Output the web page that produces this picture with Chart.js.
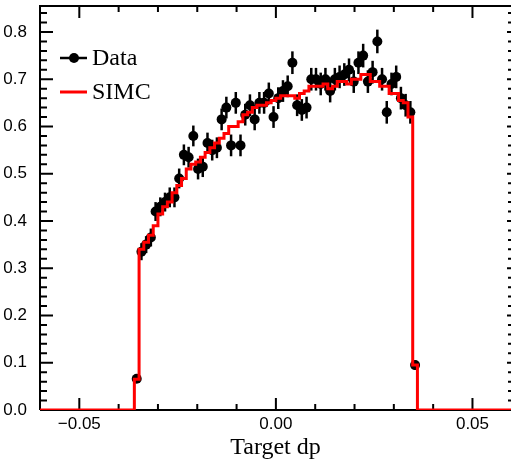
<!DOCTYPE html>
<html>
<head>
<meta charset="utf-8">
<script src="https://cdn.jsdelivr.net/npm/chart.js@4"></script>
<style>
  html, body { margin: 0; padding: 0; background: #fff; }
  #wrap { width: 511px; height: 463px; }
</style>
</head>
<body>
<div id="wrap"><canvas id="dpChart" width="511" height="463"></canvas></div>
<script>
// Target dp histogram: 60 bins of 0.0012 starting at -0.036
const binLow = -0.036;
const binWidth = 0.0012;

const dataValues = [
  0.066, 0.335, 0.350, 0.365, 0.420, 0.430, 0.440, 0.450, 0.450, 0.490,
  0.540, 0.535, 0.580, 0.510, 0.515, 0.565, 0.550, 0.555, 0.615, 0.640,
  0.560, 0.650, 0.560, 0.625, 0.645, 0.615, 0.650, 0.650, 0.670, 0.620,
  0.660, 0.675, 0.685, 0.735, 0.645, 0.635, 0.640, 0.700, 0.700, 0.690,
  0.700, 0.675, 0.700, 0.705, 0.710, 0.720, 0.695, 0.735, 0.750, 0.695,
  0.715, 0.780, 0.700, 0.630, 0.690, 0.705, 0.660, 0.645, 0.630, 0.095
];
const dataErrors = [
  0.006, 0.018, 0.018, 0.019, 0.020, 0.020, 0.020, 0.021, 0.021, 0.021,
  0.022, 0.022, 0.022, 0.022, 0.022, 0.022, 0.022, 0.022, 0.023, 0.023,
  0.023, 0.023, 0.023, 0.023, 0.023, 0.023, 0.023, 0.023, 0.023, 0.023,
  0.023, 0.023, 0.023, 0.024, 0.023, 0.023, 0.023, 0.024, 0.024, 0.024,
  0.024, 0.024, 0.024, 0.024, 0.024, 0.024, 0.024, 0.024, 0.025, 0.024,
  0.024, 0.025, 0.024, 0.024, 0.024, 0.024, 0.024, 0.024, 0.024, 0.010
];
const simcValues = [
  0.065, 0.340, 0.355, 0.370, 0.390, 0.415, 0.430, 0.440, 0.460, 0.475,
  0.490, 0.510, 0.520, 0.525, 0.535, 0.545, 0.555, 0.565, 0.575, 0.585,
  0.600, 0.600, 0.610, 0.625, 0.630, 0.640, 0.645, 0.645, 0.650, 0.655,
  0.660, 0.665, 0.665, 0.665, 0.660, 0.670, 0.675, 0.685, 0.685, 0.685,
  0.690, 0.680, 0.685, 0.695, 0.695, 0.690, 0.700, 0.700, 0.710, 0.710,
  0.695, 0.695, 0.685, 0.685, 0.670, 0.670, 0.655, 0.650, 0.620, 0.095
];

const xTicks = [-0.05, 0.00, 0.05];
const yTicks = [0.0, 0.1, 0.2, 0.3, 0.4, 0.5, 0.6, 0.7, 0.8];
const legendLabels = ['Data', 'SIMC'];

// build the library's point lists
const dataPoints = dataValues.map((v, i) => ({ x: binLow + (i + 0.5) * binWidth, y: v }));
const simcPoints = [{ x: -0.06, y: 0 }];
simcValues.forEach((v, i) => simcPoints.push({ x: binLow + i * binWidth, y: v }));
simcPoints.push({ x: binLow + simcValues.length * binWidth, y: 0 });
simcPoints.push({ x: 0.06, y: 0 });

function range(a, b, step) {
  const out = [];
  for (let v = a; v <= b + step / 2; v += step) out.push(+v.toFixed(4));
  return out;
}

function noPad(s) {
  s.paddingTop = 0; s.paddingBottom = 0;
  s.paddingLeft = 0; s.paddingRight = 0;
}

// ROOT-like frame, inward ticks, error bars and legend
const rootStyle = {
  id: 'rootStyle',
  beforeDatasetsDraw(chart) {
    const { ctx, chartArea: a, scales: { x, y } } = chart;
    ctx.save();
    ctx.strokeStyle = '#000';

    // error bars
    ctx.lineWidth = 2.5;
    dataPoints.forEach((p, i) => {
      const px = x.getPixelForValue(p.x);
      ctx.beginPath();
      ctx.moveTo(px, y.getPixelForValue(p.y - dataErrors[i]));
      ctx.lineTo(px, y.getPixelForValue(p.y + dataErrors[i]));
      ctx.stroke();
    });

    // frame
    ctx.lineWidth = 2;
    ctx.beginPath();
    ctx.moveTo(a.left, a.bottom);
    ctx.lineTo(a.left, a.top);
    ctx.lineTo(a.right + 2, a.top);
    ctx.moveTo(a.left, a.bottom);
    ctx.lineTo(a.right + 2, a.bottom);
    ctx.stroke();

    // x ticks (bottom and top)
    range(-0.06, 0.06, 0.01).forEach(v => {
      const major = xTicks.some(t => Math.abs(t - v) < 1e-6);
      const len = major ? 12 : 6;
      const px = x.getPixelForValue(v);
      if (px < a.left + 1 || px > a.right - 1) return;
      ctx.beginPath();
      ctx.moveTo(px, a.bottom); ctx.lineTo(px, a.bottom - len);
      ctx.moveTo(px, a.top); ctx.lineTo(px, a.top + len);
      ctx.stroke();
    });

    // y ticks (left and right)
    range(0, 0.84, 0.02).forEach(v => {
      const major = yTicks.some(t => Math.abs(t - v) < 1e-6);
      const len = major ? 13 : 7;
      const py = y.getPixelForValue(v);
      if (py > a.bottom - 1) return;
      ctx.beginPath();
      ctx.moveTo(a.left, py); ctx.lineTo(a.left + len, py);
      ctx.moveTo(a.right, py); ctx.lineTo(a.right - (major ? 4 : 3), py);
      ctx.stroke();
    });
    ctx.restore();
  },
  afterDraw(chart) {
    const { ctx } = chart;
    ctx.save();
    ctx.font = '24px "Liberation Serif"';
    ctx.fillStyle = '#000';
    ctx.textBaseline = 'middle';

    // Data entry
    ctx.strokeStyle = '#000';
    ctx.lineWidth = 2.5;
    ctx.beginPath(); ctx.moveTo(60, 58); ctx.lineTo(87, 58); ctx.stroke();
    ctx.beginPath(); ctx.arc(74, 58, 5, 0, Math.PI * 2); ctx.fill();
    ctx.fillText(legendLabels[0], 92, 59);

    // SIMC entry
    ctx.strokeStyle = '#ff0000';
    ctx.lineWidth = 3;
    ctx.beginPath(); ctx.moveTo(60, 92); ctx.lineTo(87, 92); ctx.stroke();
    ctx.fillText(legendLabels[1], 92, 93);
    ctx.restore();
  }
};

const ctx = document.getElementById('dpChart').getContext('2d');
new Chart(ctx, {
  type: 'line',
  data: {
    datasets: [
      {
        label: 'SIMC',
        data: simcPoints,
        stepped: 'before',
        borderColor: '#ff0000',
        borderWidth: 3,
        pointRadius: 0,
        fill: false
      },
      {
        label: 'Data',
        data: dataPoints,
        showLine: false,
        pointRadius: 5,
        pointBackgroundColor: '#000',
        pointBorderColor: '#000',
        pointBorderWidth: 0
      }
    ]
  },
  options: {
    responsive: false,
    animation: false,
    devicePixelRatio: 1,
    layout: { autoPadding: false, padding: { top: 6, right: 0, left: 0, bottom: 0 } },
    plugins: { legend: { display: false }, tooltip: { enabled: false } },
    scales: {
      x: {
        type: 'linear',
        min: -0.06,
        max: 0.0598,
        grid: { display: false },
        border: { display: false },
        afterBuildTicks: s => { s.ticks = xTicks.map(v => ({ value: v })); },
        afterFit: s => { s.height = 53; noPad(s); },
        ticks: {
          autoSkip: false,
          maxRotation: 0,
          padding: -4,
          color: '#000',
          font: { family: '"Liberation Sans"', size: 17 },
          callback: v => (v < 0 ? '\u2212' : '') + Math.abs(v).toFixed(2)
        },
        title: {
          display: true,
          text: 'Target dp',
          color: '#000',
          font: { family: '"Liberation Serif"', size: 24 },
          padding: { top: 2, bottom: 1 }
        }
      },
      y: {
        type: 'linear',
        min: 0,
        max: 0.855,
        grid: { display: false },
        border: { display: false },
        afterBuildTicks: s => { s.ticks = yTicks.map(v => ({ value: v })); },
        afterFit: s => { s.width = 40; noPad(s); },
        ticks: {
          padding: 5,
          color: '#000',
          font: { family: '"Liberation Sans"', size: 17 },
          callback: v => v.toFixed(1)
        }
      }
    }
  },
  plugins: [rootStyle]
});
</script>
</body>
</html>
